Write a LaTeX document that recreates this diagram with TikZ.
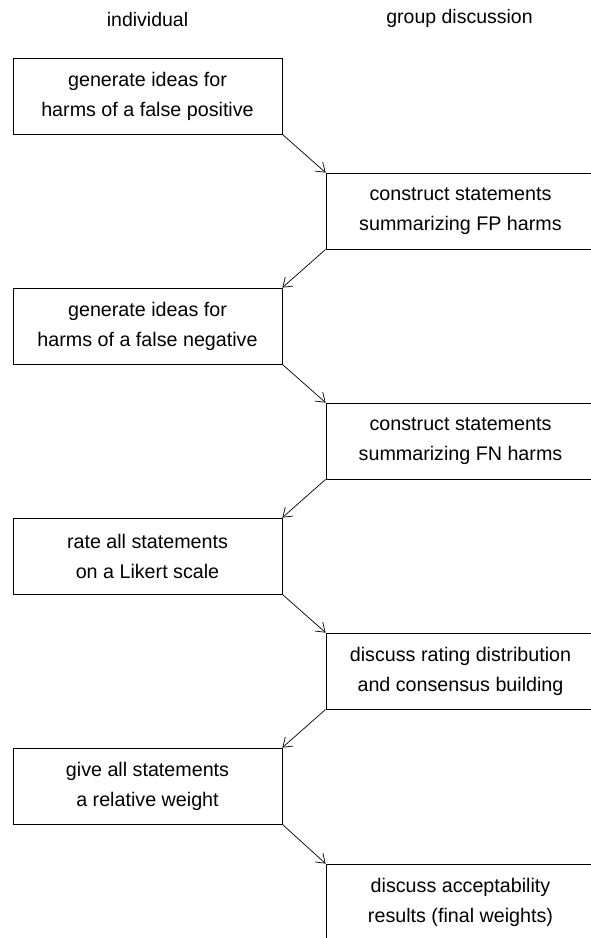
\documentclass[tikz,border=0pt]{standalone}
\usepackage{fontspec}
\setmainfont{Liberation Sans}
\usetikzlibrary{arrows.meta}

\begin{document}
\begin{tikzpicture}[x=1pt, y=-1pt,
    stepbox/.style={draw, line width=0.8pt, minimum width=269pt, minimum height=76pt,
        inner sep=0pt, align=center, font=\fontsize{19.7}{30}\selectfont},
    head/.style={font=\fontsize{19.5}{22}\selectfont},
    flow/.style={-{Straight Barb[length=8.5pt, width=12pt]}, line width=0.7pt}]
    \useasboundingbox (0,0) rectangle (591,938);
    \clip (0,0) rectangle (591,938);

    \node (hind) [head] at (147.5, 20) {individual};
    \node (hgrp) [head] at (459.5, 18) {group discussion};

    \node (i1) [stepbox] at (147.5, 96) {generate ideas for\\harms of a false positive};
    \node (g1) [stepbox] at (460.5, 211) {construct statements\\summarizing FP harms};
    \node (i2) [stepbox] at (147.5, 326) {generate ideas for\\harms of a false negative};
    \node (g2) [stepbox] at (460.5, 441) {construct statements\\summarizing FN harms};
    \node (i3) [stepbox] at (147.5, 556) {rate all statements\\on a Likert scale};
    \node (g3) [stepbox] at (460.5, 671) {discuss rating distribution\\and consensus building};
    \node (i4) [stepbox] at (147.5, 786) {give all statements\\a relative weight};
    \node (g4) [stepbox] at (460.5, 902) {discuss acceptability\\results (final weights)};

    \draw[flow] (i1.south east) -- (g1.north west);
    \draw[flow] (g1.south west) -- (i2.north east);
    \draw[flow] (i2.south east) -- (g2.north west);
    \draw[flow] (g2.south west) -- (i3.north east);
    \draw[flow] (i3.south east) -- (g3.north west);
    \draw[flow] (g3.south west) -- (i4.north east);
    \draw[flow] (i4.south east) -- (g4.north west);
\end{tikzpicture}
\end{document}
